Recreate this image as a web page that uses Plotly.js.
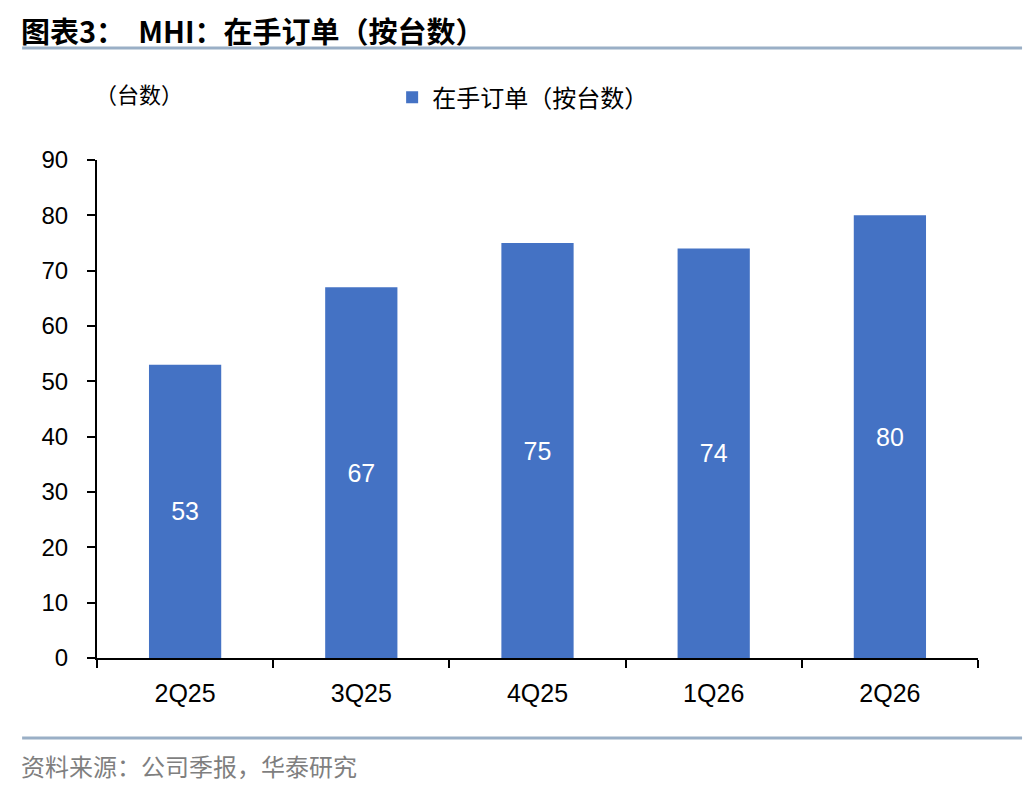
<!DOCTYPE html>
<html>
<head>
<meta charset="utf-8">
<script src="https://cdn.plot.ly/plotly-3.0.1.min.js"></script>
<style>
  html, body { margin: 0; padding: 0; background: #fff; }
  #chart { width: 1036px; height: 792px; }
</style>
</head>
<body>
<div id="chart"></div>
<script>
// values
const quarters = ['2Q25', '3Q25', '4Q25', '1Q26', '2Q26'];
const backlogUnits = [53, 67, 75, 74, 80];
const yTicks = [0, 10, 20, 30, 40, 50, 60, 70, 80, 90];

const cjk = '"Noto Sans CJK SC", "Noto Sans", sans-serif';
const latin = '"Liberation Sans", Arial, sans-serif';

var el = document.getElementById('chart');

let bars = {
  x: quarters,
  y: backlogUnits,
  type: 'bar',
  name: '在手订单（按台数）',
  marker: { color: '#4472C4' },
  text: backlogUnits.map(String),
  textposition: 'inside',
  insidetextanchor: 'middle',
  textfont: { family: latin, size: 25, color: '#ffffff' },
  hoverinfo: 'skip'
};

let layout = {
  width: 1036,
  height: 792,
  margin: { l: 97, r: 58, t: 160, b: 134 },
  paper_bgcolor: '#ffffff',
  plot_bgcolor: '#ffffff',
  bargap: 0.59,
  showlegend: true,
  legend: {
    orientation: 'h',
    x: 0.335, xanchor: 'left',
    y: 1.125, yanchor: 'middle',
    font: { family: cjk, size: 24, color: '#000' },
    itemwidth: 30,
    bgcolor: 'rgba(0,0,0,0)'
  },
  xaxis: {
    type: 'category',
    showgrid: false,
    showline: true, linecolor: '#000', linewidth: 2,
    ticks: 'outside', tickson: 'boundaries', ticklen: 8, tickwidth: 2, tickcolor: '#000',
    ticklabelstandoff: 12,
    tickfont: { family: latin, size: 25, color: '#000' },
    zeroline: false
  },
  yaxis: {
    range: [0, 90],
    tickvals: yTicks,
    showgrid: false,
    showline: true, linecolor: '#000', linewidth: 2,
    ticks: 'outside', ticklen: 8, tickwidth: 2, tickcolor: '#000',
    ticklabelstandoff: 14,
    tickfont: { family: latin, size: 24, color: '#000' },
    zeroline: false
  },
  shapes: [
    { type: 'line', xref: 'paper', yref: 'paper', x0: -0.085, x1: 1.05, y0: 1.2249, y1: 1.2249,
      line: { color: '#9AAFC6', width: 3 } },
    { type: 'line', xref: 'paper', yref: 'paper', x0: -0.085, x1: 1.05, y0: -0.1606, y1: -0.1606,
      line: { color: '#9AAFC6', width: 3 } }
  ],
  annotations: [
    { xref: 'paper', yref: 'paper', x: -0.088, y: 1.262, xanchor: 'left', yanchor: 'middle',
      text: '<b>图表3：  MHI：在手订单（按台数）</b>', showarrow: false,
      font: { family: cjk, size: 29, color: '#000' } },
    { xref: 'paper', yref: 'paper', x: -0.005, y: 1.1345, xanchor: 'left', yanchor: 'middle',
      text: '（台数）', showarrow: false,
      font: { family: cjk, size: 22, color: '#000' } },
    { xref: 'paper', yref: 'paper', x: -0.088, y: -0.215, xanchor: 'left', yanchor: 'middle',
      text: '资料来源：公司季报，华泰研究', showarrow: false,
      font: { family: cjk, size: 24, color: '#7f7f7f' } }
  ]
};

let config = { displayModeBar: false, staticPlot: true };

Plotly.newPlot(el, [bars], layout, config);
</script>
</body>
</html>
